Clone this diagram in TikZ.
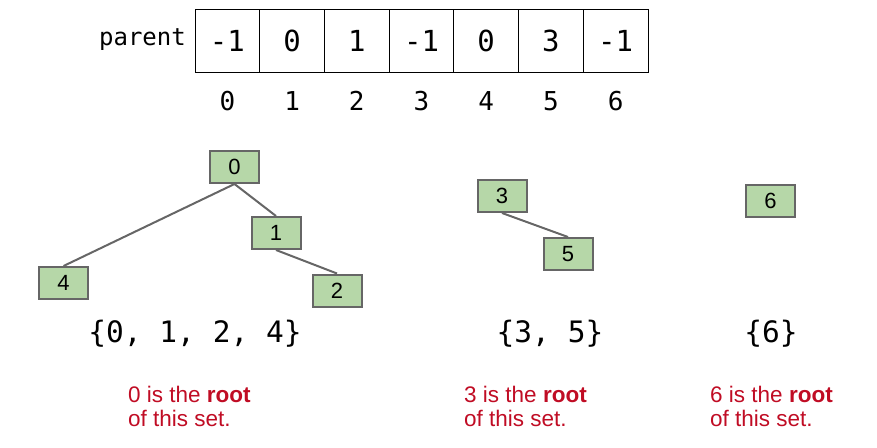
\documentclass[tikz,border=0pt]{standalone}
\usepackage{fontspec}
\setmainfont{Liberation Sans}
\setmonofont{DejaVu Sans Mono}
\definecolor{nodefill}{RGB}{182,215,168}
\definecolor{nodeedge}{RGB}{102,102,102}
\definecolor{rootred}{RGB}{192,12,36}
\begin{document}
\begin{tikzpicture}[x=1pt,y=-1pt,
  treenode/.style={draw=nodeedge,line width=2pt,fill=nodefill,minimum width=49pt,minimum height=32pt,inner sep=0pt,font=\fontsize{22}{22}\selectfont},
  edge/.style={draw=nodeedge,line width=2pt},
  cell/.style={draw=black,line width=0.9pt,minimum width=64.7pt,minimum height=63pt,inner sep=0pt,font=\ttfamily\fontsize{29}{29}\selectfont},
  idx/.style={font=\ttfamily\fontsize{26}{26}\selectfont,inner sep=0pt},
  settext/.style={font=\ttfamily\fontsize{29.5}{29.5}\selectfont,inner sep=0pt},
  note/.style={text=rootred,font=\fontsize{22.5}{24}\selectfont,align=left,inner sep=0pt,anchor=north west}
]
\useasboundingbox (0,0) rectangle (877,447);
\node[anchor=east,inner sep=0pt,font=\ttfamily\fontsize{24}{24}\selectfont] (lab) at (186,40) {parent};
\foreach \v [count=\i from 0] in {-1,0,1,-1,0,3,-1} {
  \node[cell] (c\i) at ({227.4+64.7*\i},41) {\v};
  \node[idx] (i\i) at ({227.4+64.7*\i},101) {\i};
}
\node[treenode] (n0) at (234.5,167) {0};
\node[treenode] (n1) at (276,233) {1};
\node[treenode] (n4) at (63.5,283) {4};
\node[treenode] (n2) at (337,290.5) {2};
\node[treenode] (n3) at (502,196) {3};
\node[treenode] (n5) at (568,254) {5};
\node[treenode] (n6) at (770.5,200.5) {6};
\draw[edge] (n0.south) -- (n4.north);
\draw[edge] (n0.south) -- (n1.north);
\draw[edge] (n1.south) -- (n2.north);
\draw[edge] (n3.south) -- (n5.north);
\node[settext] (s1) at (195,334) {\{0, 1, 2, 4\}};
\node[settext] (s2) at (550,334) {\{3, 5\}};
\node[settext] (s3) at (771,334) {\{6\}};
\node[note] (t1) at (128,386) {0 is the \textbf{root}\\of this set.};
\node[note] (t2) at (464,386) {3 is the \textbf{root}\\of this set.};
\node[note] (t3) at (710,386) {6 is the \textbf{root}\\of this set.};
\end{tikzpicture}
\end{document}
